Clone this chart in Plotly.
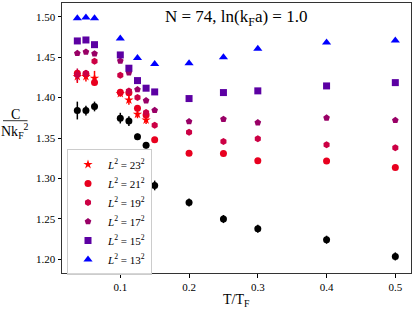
import plotly.graph_objects as go

# ---- data ----
T_all = [0.0375, 0.05, 0.0625, 0.1, 0.1125, 0.125, 0.1375, 0.15, 0.2, 0.25, 0.3, 0.4, 0.5]

# extrapolated (black, no legend)
y_inf = [1.384, 1.384, 1.389, 1.3746, 1.371, 1.3515, 1.341, 1.2914, 1.2704, 1.2499, 1.2379, 1.2243, 1.2037]
e_inf = [0.011, 0.006, 0.006, 0.0066, 0.006, 0.004, 0.004, 0.006, 0.005, 0.005, 0.005, 0.005, 0.005]

T_23 = [0.0375, 0.05, 0.0625, 0.1, 0.1125, 0.125, 0.1375]
y_23 = [1.426, 1.426, 1.424, 1.405, 1.397, 1.3795, 1.3724]
e_23 = [0.008, 0.006, 0.009, 0.004, 0.006, 0.005, 0.005]

y_21 = [1.430, 1.429, 1.4185, 1.4067, 1.406, 1.3869, 1.3785, 1.3478, 1.3313, 1.3309, 1.3219, 1.3215, 1.3136]
e_21 = [0.004, 0.004, 0.003, 0.002, 0.002, 0.002, 0.002, 0.002, 0.002, 0.002, 0.002, 0.002, 0.002]

y_19 = [1.428, 1.430, 1.4449, 1.4277, 1.408, 1.400, 1.3815, 1.3659, 1.3573, 1.3457, 1.349, 1.3416, 1.3379]
e_19 = [0.008, 0.004, 0.002, 0.002, 0.002, 0.002, 0.002, 0.002, 0.002, 0.002, 0.002, 0.002, 0.002]

y_17 = [1.4548, 1.4564, 1.4543, 1.4453, 1.4309, 1.410, 1.3963, 1.3844, 1.3704, 1.3733, 1.3691, 1.375, 1.372]
e_17 = [0.003, 0.002, 0.002, 0.002, 0.002, 0.002, 0.002, 0.002, 0.002, 0.002, 0.002, 0.002, 0.002]

y_15 = [1.470, 1.4712, 1.4654, 1.4527, 1.4363, 1.421, 1.4116, 1.407, 1.3988, 1.4062, 1.4083, 1.4144, 1.4185]
e_15 = [0.001] * 13

T_13 = [0.0375, 0.05, 0.0625, 0.1, 0.125, 0.15, 0.2, 0.25, 0.3, 0.4, 0.5]
y_13 = [1.498, 1.499, 1.498, 1.473, 1.449, 1.4416, 1.4425, 1.4499, 1.4605, 1.468, 1.4704]
e_13 = [0.001] * 11

x_ticks = [0.1, 0.2, 0.3, 0.4, 0.5]
x_ticklabels = ["0.1", "0.2", "0.3", "0.4", "0.5"]
y_ticks = [1.20, 1.25, 1.30, 1.35, 1.40, 1.45, 1.50]
y_ticklabels = ["1.20", "1.25", "1.30", "1.35", "1.40", "1.45", "1.50"]

FONT = "'Liberation Serif', 'Times New Roman', 'DejaVu Serif', serif"

series = [
    ("23", T_23, y_23, e_23, "#ff0000", "star", 7),
    ("21", T_all, y_21, e_21, "#e8001f", "circle", 7),
    ("19", T_all, y_19, e_19, "#cc0044", "hexagon", 7),
    ("17", T_all, y_17, e_17, "#990066", "pentagon", 7),
    ("15", T_all, y_15, e_15, "#5c00a3", "square", 7),
    ("13", T_13, y_13, e_13, "#0000ff", "triangle-up", 8),
]

fig = go.Figure()
fig.add_trace(go.Scatter(
    x=T_all, y=y_inf, mode="markers", showlegend=False,
    marker=dict(color="black", size=7, symbol="circle"),
    error_y=dict(type="data", array=e_inf, color="black", thickness=1.5, width=0),
))
for L, xs, ys, es, col, sym, sz in series:
    fig.add_trace(go.Scatter(
        x=xs, y=ys, mode="markers",
        name=f"<i>L</i><sup>2</sup> = {L}<sup>2</sup>",
        marker=dict(color=col, size=sz, symbol=sym, line=dict(width=0)),
        error_y=dict(type="data", array=es, color=col, thickness=1.5, width=0),
    ))

px_l, px_r, px_t, px_b = 62, 411, 3, 273
W, H = 415, 311
def pxx(p):
    return (p - px_l) / (px_r - px_l)
def pxy(p):
    return (px_b - p) / (px_b - px_t)

fig.update_layout(
    width=W, height=H,
    margin=dict(l=px_l, r=W - px_r, t=px_t, b=H - px_b, pad=0),
    paper_bgcolor="white", plot_bgcolor="white",
    font=dict(family=FONT, size=11, color="black"),
    showlegend=True,
    legend=dict(
        x=pxx(67), y=pxy(149), xanchor="left", yanchor="top",
        bgcolor="rgba(255,255,255,0.8)", bordercolor="#cccccc", borderwidth=1,
        font=dict(family=FONT, size=11), tracegroupgap=0,
        itemwidth=30,
    ),
    xaxis=dict(
        range=[0.0152, 0.5228], tickvals=x_ticks, ticktext=x_ticklabels,
        ticks="outside", ticklen=3.5, tickwidth=0.8, tickcolor="black",
        showline=True, linecolor="#333333", linewidth=1, mirror=True,
        showgrid=False, zeroline=False,
        tickfont=dict(family=FONT, size=11, color="black"),
    ),
    yaxis=dict(
        range=[1.1832, 1.5169], tickvals=y_ticks, ticktext=y_ticklabels,
        ticks="outside", ticklen=3.5, tickwidth=0.8, tickcolor="black",
        showline=True, linecolor="#333333", linewidth=1, mirror=True,
        showgrid=False, zeroline=False,
        tickfont=dict(family=FONT, size=11, color="black"),
    ),
)

# title text inside plot
fig.add_annotation(
    xref="paper", yref="paper", x=pxx(236), y=pxy(18), xanchor="center", yanchor="middle",
    text="N = 74, ln(k<sub>F</sub>a) = 1.0", showarrow=False,
    font=dict(family=FONT, size=17, color="black"),
)
# x-axis label
fig.add_annotation(
    xref="paper", yref="paper", x=pxx(236), y=pxy(300), xanchor="center", yanchor="middle",
    text="T/T<sub>F</sub>", showarrow=False,
    font=dict(family=FONT, size=14, color="black"),
)
# y-axis label as fraction
fig.add_annotation(
    xref="paper", yref="paper", x=pxx(15.5), y=pxy(114.5), xanchor="center", yanchor="middle",
    text="C", showarrow=False, font=dict(family=FONT, size=14, color="black"),
)
fig.add_annotation(
    xref="paper", yref="paper", x=pxx(15.5), y=pxy(131), xanchor="center", yanchor="middle",
    text="Nk<sub>F</sub><sup>2</sup>", showarrow=False, font=dict(family=FONT, size=14, color="black"),
)
fig.add_shape(
    type="line", xref="paper", yref="paper",
    x0=pxx(3), x1=pxx(27.5), y0=pxy(120.7), y1=pxy(120.7),
    line=dict(color="black", width=0.8),
)

fig.write_html(
    "out.html",
    config={"displayModeBar": False},
    post_script="document.body.style.margin='0';document.body.style.padding='0';",
)
